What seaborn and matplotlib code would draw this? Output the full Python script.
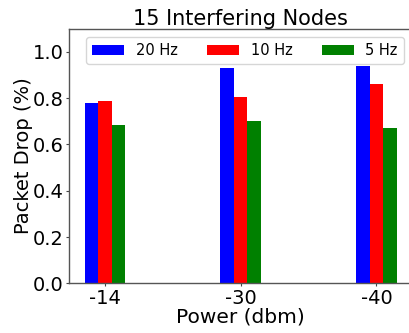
import matplotlib
matplotlib.use("Agg")
import matplotlib.pyplot as plt
import seaborn as sns
import pandas as pd

powers = ["-14", "-30", "-40"]
series = ["20 Hz", "10 Hz", "5 Hz"]
drop_20hz = [0.779, 0.931, 0.939]
drop_10hz = [0.789, 0.805, 0.861]
drop_5hz = [0.685, 0.701, 0.671]
colors = ["blue", "red", "green"]

rows = []
for s, vals in zip(series, [drop_20hz, drop_10hz, drop_5hz]):
    for p, v in zip(powers, vals):
        rows.append({"Power": p, "Rate": s, "Drop": v})
df = pd.DataFrame(rows)

sns.set_style("ticks")
plt.rcParams["font.family"] = ["DejaVu Sans"]
plt.rcParams["text.color"] = "black"
plt.rcParams["axes.labelcolor"] = "black"
plt.rcParams["xtick.color"] = "black"
plt.rcParams["ytick.color"] = "black"

fig = plt.figure(figsize=(4.09, 3.33), dpi=100)
ax = fig.add_axes([69 / 409, (333 - 283.3) / 333, (412.4 - 69) / 409, (283.3 - 28.7) / 333])

sns.barplot(data=df, x="Power", y="Drop", hue="Rate", order=powers, hue_order=series,
            palette=colors, saturation=1, width=0.3, linewidth=0, ax=ax, errorbar=None)

ax.set_xlim(-0.265, 2.265)
ax.set_ylim(0, 1.1)
ax.set_yticks([0.0, 0.2, 0.4, 0.6, 0.8, 1.0])
ax.set_yticklabels(["0.0", "0.2", "0.4", "0.6", "0.8", "1.0"])
ax.tick_params(axis="both", labelsize=14, length=2.5, width=0.8, pad=1.5,
               color="#444444", labelcolor="black")
ax.set_xlabel("Power (dbm)", fontsize=14.5, labelpad=0, color="black")
ax.set_ylabel("Packet Drop (%)", fontsize=14, labelpad=0, color="black")
ax.set_title("15 Interfering Nodes", fontsize=15, pad=3, color="black")
for sp in ax.spines.values():
    sp.set_color("#555555")
    sp.set_linewidth(1.0)

leg = ax.legend(loc="upper center", bbox_to_anchor=(0.5125, 0.995), ncol=3, fontsize=10.5,
                frameon=True, handlelength=2.2, borderaxespad=0.5)
for t in leg.get_texts():
    t.set_color("black")

fig.savefig("out.png", dpi=100)
